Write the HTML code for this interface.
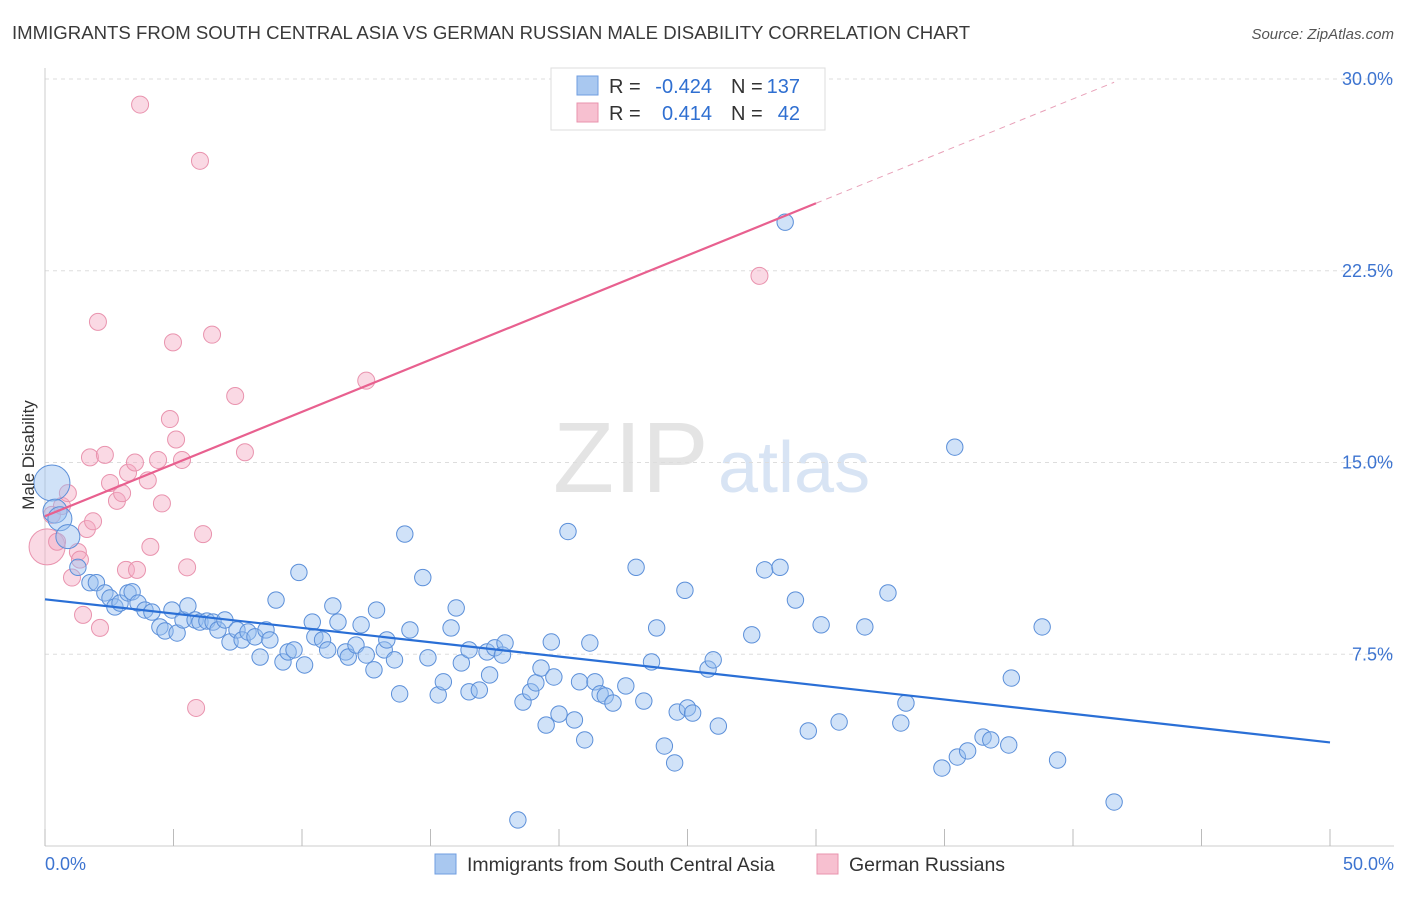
<!DOCTYPE html>
<html><head><meta charset="utf-8">
<style>
body{margin:0;background:#fff;font-family:"Liberation Sans",sans-serif;}
svg text{font-family:"Liberation Sans",sans-serif;}
</style></head>
<body>
<svg id="chart" width="1406" height="892" xmlns="http://www.w3.org/2000/svg">
<text x="12" y="39" font-size="18.6" fill="#3a3a3a">IMMIGRANTS FROM SOUTH CENTRAL ASIA VS GERMAN RUSSIAN MALE DISABILITY CORRELATION CHART</text>
<text x="1394" y="39" font-size="15" fill="#555" text-anchor="end" font-style="italic">Source: ZipAtlas.com</text>
<g>
<text x="553" y="492" font-size="100" fill="#e4e4e4" font-family="Liberation Serif">ZIP</text>
<text x="718" y="492" font-size="72" fill="#d8e4f4">atlas</text>
</g>
<g id="grid"></g>
<g id="axes"></g>
<g id="pts"></g>
<g id="lines"></g>
<text transform="translate(34,455) rotate(-90)" font-size="17" fill="#333" text-anchor="middle">Male Disability</text>
<g font-size="20">
<rect x="551" y="68" width="274" height="62" fill="#fff" stroke="#ddd"/>
<rect x="577" y="76" width="21" height="19" fill="#a9c8f0" stroke="#6f9ee0"/>
<rect x="577" y="103" width="21" height="19" fill="#f7c0d0" stroke="#e993ae"/>
<text x="609" y="93" fill="#333">R =</text>
<text x="712" y="93" fill="#2f6fd1" text-anchor="end">-0.424</text>
<text x="731" y="93" fill="#333">N =</text>
<text x="800" y="93" fill="#2f6fd1" text-anchor="end">137</text>
<text x="609" y="120" fill="#333">R =</text>
<text x="712" y="120" fill="#2f6fd1" text-anchor="end">0.414</text>
<text x="731" y="120" fill="#333">N =</text>
<text x="800" y="120" fill="#2f6fd1" text-anchor="end">42</text>
</g>
<g>
<rect x="435" y="854" width="21" height="20" fill="#a9c8f0" stroke="#6f9ee0"/>
<text x="467" y="871" font-size="19.5" fill="#333">Immigrants from South Central Asia</text>
<rect x="817" y="854" width="21" height="20" fill="#f7c0d0" stroke="#e993ae"/>
<text x="849" y="871" font-size="19.5" fill="#333">German Russians</text>
</g>
</svg>
<script>
const xTicks=[0,5,10,15,20,25,30,35,40,45,50];
const yTicks=[7.5,15,22.5,30];
const yTickLabels=["7.5%","15.0%","22.5%","30.0%"];
const blueX=[0.27,0.39,0.58,0.89,1.28,1.75,2.0,2.33,2.53,2.72,2.92,3.23,3.39,3.62,3.89,4.16,4.47,4.67,4.94,5.14,5.37,5.56,5.84,6.03,6.3,6.54,6.73,7.0,7.2,7.47,7.67,7.9,8.17,8.37,8.6,8.75,8.99,9.26,9.46,9.69,9.88,10.1,10.4,10.5,10.8,11.0,11.2,11.4,11.7,11.8,12.1,12.3,12.5,12.8,12.9,13.2,13.3,13.6,13.8,14.0,14.2,14.7,14.9,15.3,15.5,15.8,16.0,16.2,16.5,16.5,16.9,17.2,17.3,17.5,17.8,17.9,18.4,18.6,18.9,19.1,19.3,19.5,19.7,19.8,20.0,20.35,20.6,20.8,21.0,21.2,21.4,21.6,21.8,22.1,22.6,23.0,23.3,23.6,23.8,24.1,24.5,24.6,24.9,25.0,25.2,25.8,26.0,26.2,27.5,28.0,28.6,28.8,29.2,29.7,30.2,30.9,31.9,32.8,33.3,33.5,34.9,35.4,35.5,35.9,36.5,36.8,37.5,37.6,38.8,39.4,41.6];
const blueY=[14.2,13.1,12.8,12.1,10.9,10.3,10.3,9.9,9.7,9.35,9.5,9.9,9.94,9.5,9.23,9.15,8.57,8.41,9.23,8.33,8.84,9.39,8.84,8.76,8.8,8.76,8.45,8.84,7.98,8.45,8.06,8.37,8.18,7.39,8.45,8.06,9.62,7.2,7.59,7.67,10.7,7.08,8.76,8.18,8.06,7.67,9.39,8.76,7.59,7.39,7.86,8.65,7.47,6.89,9.23,7.67,8.06,7.28,5.95,12.2,8.45,10.5,7.36,5.91,6.42,8.53,9.31,7.16,6.03,7.67,6.1,7.59,6.69,7.75,7.47,7.94,1.02,5.63,6.03,6.38,6.96,4.73,7.98,6.61,5.16,12.3,4.93,6.42,4.15,7.94,6.42,5.95,5.87,5.59,6.26,10.9,5.67,7.2,8.53,3.91,3.25,5.24,10.0,5.4,5.2,6.92,7.28,4.69,8.26,10.8,10.9,24.4,9.62,4.5,8.65,4.85,8.57,9.9,4.81,5.59,3.05,15.6,3.48,3.72,4.26,4.15,3.95,6.57,8.57,3.36,1.72];
const pinkX=[0.08,0.27,0.47,0.66,0.89,1.05,1.28,1.36,1.48,1.63,1.75,1.87,2.06,2.14,2.33,2.53,2.8,3.0,3.15,3.23,3.5,3.58,3.7,4.0,4.1,4.4,4.55,4.86,4.98,5.1,5.33,5.53,5.88,6.03,6.15,6.5,7.4,7.78,12.5,27.8];
const pinkY=[11.7,12.95,11.9,13.3,13.8,10.5,11.5,11.2,9.04,12.4,15.2,12.7,20.5,8.53,15.3,14.2,13.5,13.8,10.8,14.6,15.0,10.8,29.0,14.3,11.7,15.1,13.4,16.7,19.7,15.9,15.1,10.9,5.4,26.8,12.2,20.0,17.6,15.4,18.2,22.3];
const blueTrend=[9.65,4.05];
const pinkTrend=[12.9,0.408];
const NS='http://www.w3.org/2000/svg';
const X=v=>45+v/50*1285, Y=v=>846-v/30*767;
function mk(p,t,a){const e=document.createElementNS(NS,t);for(const k in a)e.setAttribute(k,a[k]);p.appendChild(e);return e;}
const grid=document.getElementById('grid'),axes=document.getElementById('axes'),pts=document.getElementById('pts'),lines=document.getElementById('lines');
yTicks.forEach((t,i)=>{
 const g=mk(grid,'line',{x1:45,x2:1394,y1:Y(t),y2:Y(t),stroke:'#ddd','stroke-dasharray':'4,4'});
 
 
 const l=mk(axes,'text',{x:1393,y:Y(t)+6,'font-size':18,fill:'#3d74d0','text-anchor':'end'});l.textContent=yTickLabels[i];
 
 
});
const al=mk(axes,'line',{x1:45,x2:45,y1:68,y2:846,stroke:'#ccc'});


const bl=mk(axes,'line',{x1:45,x2:1394,y1:846,y2:846,stroke:'#ccc'});


xTicks.forEach(t=>{
 const k=mk(axes,'line',{x1:X(t),x2:X(t),y1:829,y2:846,stroke:'#bbb'});
 
 
});
[[0,'0.0%','start',45],[50,'50.0%','end',1394]].forEach(d=>{
 const l=mk(axes,'text',{x:d[3],y:870,'font-size':18,fill:'#3d74d0','text-anchor':d[2]});l.textContent=d[1];
 
 
});
pinkX.forEach((x,i)=>{
 const r=i===0?18:8.5;
 const c=mk(pts,'circle',{cx:X(x),cy:Y(pinkY[i]),r:r,fill:'rgba(245,170,195,0.45)',stroke:'#e993ae','stroke-width':1});
 
 
});
blueX.forEach((x,i)=>{
 const r=i===0?18:(i<4?12:8.2);
 const c=mk(pts,'circle',{cx:X(x),cy:Y(blueY[i]),r:r,fill:'rgba(150,190,240,0.45)',stroke:'#5b8fd9','stroke-width':1});
 
 
});
const b=mk(lines,'line',{x1:X(0),y1:Y(blueTrend[0]),x2:X(50),y2:Y(blueTrend[1]),stroke:'#2a6fd6','stroke-width':2.2});


const pf=x=>pinkTrend[0]+pinkTrend[1]*x;
const p=mk(lines,'line',{x1:X(0),y1:Y(pf(0)),x2:X(30),y2:Y(pf(30)),stroke:'#e8608f','stroke-width':2.2});


const pd=mk(lines,'line',{x1:X(30),y1:Y(pf(30)),x2:X(41.6),y2:Y(pf(41.6)),stroke:'#e8a0b8','stroke-width':1,'stroke-dasharray':'6,5'});


</script>
</body></html>
